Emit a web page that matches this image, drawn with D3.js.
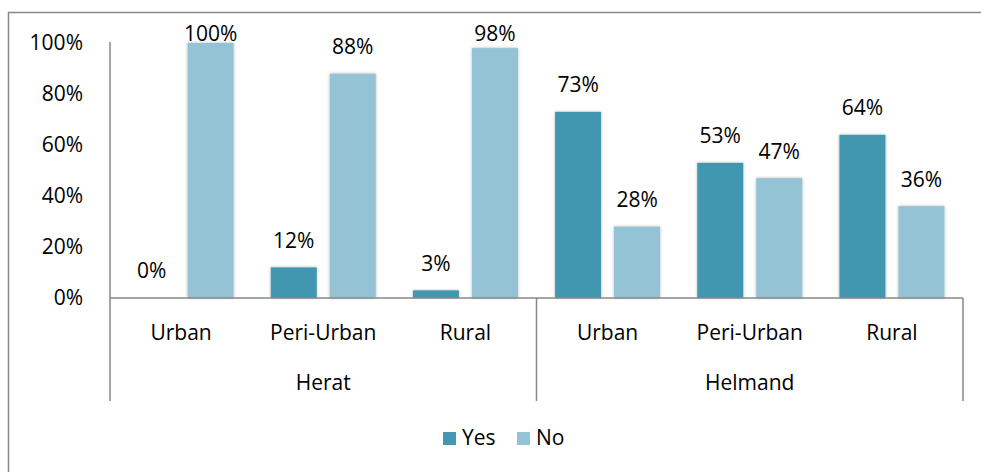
<!DOCTYPE html>
<html>
<head>
<meta charset="utf-8">
<script src="https://cdn.jsdelivr.net/npm/d3@7"></script>
<style>
  body { margin: 0; background: #fff; }
  text { font-family: "Open Sans", "Noto Sans", sans-serif; fill: #000; }
</style>
</head>
<body>
<script>
// data
var regions = ["Herat", "Helmand"];
var settings = ["Urban", "Peri-Urban", "Rural"];
var series = ["Yes", "No"];
var yesValues = [0, 12, 3, 73, 53, 64];
var noValues = [100, 88, 98, 28, 47, 36];
var yTicks = [0, 20, 40, 60, 80, 100];

var colors = {Yes: "#4397b0", No: "#93c3d5"};

var W = 981, H = 472;
var plot = {left: 110, right: 963, top: 43, bottom: 298};
var fs = "21px";

var cats = [];
regions.forEach(function(r) {
  settings.forEach(function(s) { cats.push(r + "|" + s); });
});

var rows = cats.map(function(c, i) {
  return {key: c, region: c.split("|")[0], setting: c.split("|")[1], Yes: yesValues[i], No: noValues[i]};
});

var svg = d3.select("body").append("svg")
  .attr("width", W)
  .attr("height", H);

var defs = svg.append("defs");
var f = defs.append("filter").attr("id", "sh")
  .attr("x", "-20%").attr("y", "-5%").attr("width", "140%").attr("height", "110%");
f.append("feDropShadow").attr("dx", 0).attr("dy", 0).attr("stdDeviation", 1.6)
  .attr("flood-color", "#000").attr("flood-opacity", 0.3);

// outer chart border (runs off the right/bottom edge)
svg.append("rect")
  .attr("x", 8.5).attr("y", 12.5)
  .attr("width", W + 20).attr("height", H + 20)
  .attr("fill", "none").attr("stroke", "#888").attr("stroke-width", 1.5);

var x = d3.scaleBand().domain(cats).range([plot.left, plot.right]);
var xi = d3.scaleBand().domain(series).range([0, 105]).paddingInner(0.22);
var y = d3.scaleLinear().domain([0, 100]).range([plot.bottom, plot.top]);

// y tick labels
svg.append("g").selectAll("text")
  .data(yTicks)
  .enter().append("text")
  .attr("x", 83)
  .attr("y", function(d) { return y(d); })
  .attr("dy", "0.35em")
  .attr("text-anchor", "end")
  .style("font-size", fs)
  .text(function(d) { return d + "%"; });

// bars
var groups = svg.append("g").selectAll("g")
  .data(rows)
  .enter().append("g")
  .attr("transform", function(d) {
    return "translate(" + (x(d.key) + (x.bandwidth() - 105) / 2) + ",0)";
  });

groups.selectAll("rect")
  .data(function(d) { return series.map(function(s) { return {s: s, v: d[s]}; }); })
  .enter().append("rect")
  .filter(function(d) { return d.v > 0; })
  .attr("x", function(d) { return xi(d.s); })
  .attr("y", function(d) { return y(d.v); })
  .attr("width", xi.bandwidth())
  .attr("height", function(d) { return y(0) - y(d.v); })
  .attr("fill", function(d) { return colors[d.s]; })
  .attr("filter", "url(#sh)");

groups.selectAll("text")
  .data(function(d) { return series.map(function(s) { return {s: s, v: d[s]}; }); })
  .enter().append("text")
  .attr("x", function(d) { return xi(d.s) + xi.bandwidth() / 2; })
  .attr("y", function(d) { return Math.max(y(d.v) - 27, 34); })
  .attr("dy", "0.35em")
  .attr("text-anchor", "middle")
  .style("font-size", fs)
  .text(function(d) { return d.v + "%"; });

// axes lines
var axisColor = "#878787";
svg.append("line")
  .attr("x1", plot.left).attr("x2", plot.left)
  .attr("y1", plot.top - 1).attr("y2", 401)
  .attr("stroke", axisColor).attr("stroke-width", 1.5);
svg.append("line")
  .attr("x1", plot.left).attr("x2", plot.right)
  .attr("y1", plot.bottom).attr("y2", plot.bottom)
  .attr("stroke", axisColor).attr("stroke-width", 1.5);

// region separators
var sepX = [plot.left + x.bandwidth() * settings.length, plot.right];
svg.append("g").selectAll("line")
  .data(sepX)
  .enter().append("line")
  .attr("x1", function(d) { return d; }).attr("x2", function(d) { return d; })
  .attr("y1", plot.bottom).attr("y2", 401)
  .attr("stroke", axisColor).attr("stroke-width", 1.5);

// category labels
svg.append("g").selectAll("text")
  .data(rows)
  .enter().append("text")
  .attr("x", function(d) { return x(d.key) + x.bandwidth() / 2; })
  .attr("y", 333)
  .attr("dy", "0.35em")
  .attr("text-anchor", "middle")
  .style("font-size", fs)
  .text(function(d) { return d.setting; });

svg.append("g").selectAll("text")
  .data(regions)
  .enter().append("text")
  .attr("x", function(d) {
    var first = x(d + "|" + settings[0]);
    return first + x.bandwidth() * settings.length / 2;
  })
  .attr("y", 383)
  .attr("dy", "0.35em")
  .attr("text-anchor", "middle")
  .style("font-size", fs)
  .text(function(d) { return d; });

// legend
var legend = svg.append("g").attr("transform", "translate(443,438)");
var lx = [0, 74];
series.forEach(function(s, i) {
  legend.append("rect")
    .attr("x", lx[i]).attr("y", -6)
    .attr("width", 13).attr("height", 13)
    .attr("fill", colors[s]);
  legend.append("text")
    .attr("x", lx[i] + 19).attr("y", 0)
    .attr("dy", "0.35em")
    .style("font-size", fs)
    .text(s);
});
</script>
</body>
</html>
